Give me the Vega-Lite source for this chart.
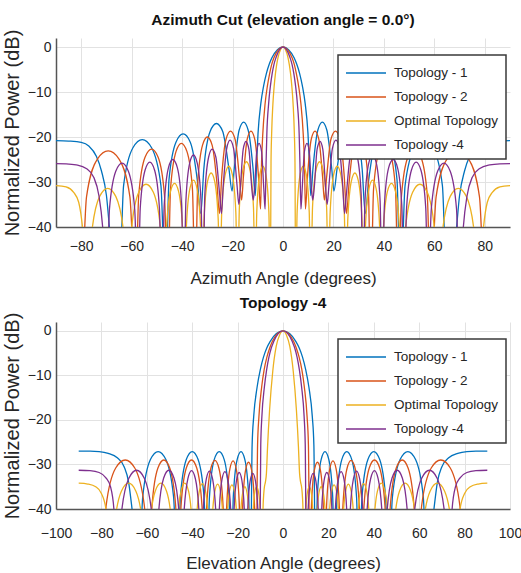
{
"$schema":"https://vega.github.io/schema/vega-lite/v6.json",
"background":"white",
"padding":{"left":2,"top":12,"right":9,"bottom":2},
"spacing":9,
"config":{
 "font":"Liberation Sans, sans-serif",
 "view":{"stroke":null},
 "axis":{"grid":true,"gridColor":"#e2e2e2","gridWidth":1,"domainColor":"#555555","domainWidth":1.5,"ticks":false,"labelFlush":false,"labelFont":"Liberation Sans, sans-serif","labelFontSize":14,"labelColor":"#262626","titleFont":"Liberation Sans, sans-serif","titleFontSize":17,"titleFontWeight":"normal","titleColor":"#262626"},
 "axisY":{"titleFontSize":20,"labelPadding":5,"titlePadding":5},
 "axisX":{"labelPadding":12,"titlePadding":17},
 "title":{"font":"Liberation Sans, sans-serif","fontSize":15.5,"fontWeight":"bold","color":"#111111","offset":1},
 "legend":{"symbolType":"M-2,0L2,0","symbolSize":400,"symbolOffset":10,"symbolStrokeWidth":1.5,"labelFont":"Liberation Sans, sans-serif","labelFontSize":13.5,"labelColor":"#262626","labelOffset":17,"padding":7,"rowPadding":6,"fillColor":"white","strokeColor":"#3a3a3a","strokeWidth":1.5}
},
"datasets":{
"az1":[{"x":0,"y":0},{"x":2.2,"y":-0.6},{"x":4.4,"y":-2.4},{"x":5.5,"y":-3.9},{"x":6.6,"y":-5.9},{"x":7.7,"y":-8.7},{"x":8.8,"y":-12.6},{"x":9.9,"y":-19.2},{"x":10.45,"y":-25.6},{"x":11,"y":-33},{"x":11.9,"y":-26.9},{"x":13.8,"y":-18.5},{"x":15.6,"y":-16.7},{"x":17.4,"y":-18.5},{"x":19.3,"y":-26.9},{"x":20.2,"y":-32},{"x":21.4,"y":-27.2},{"x":23.9,"y":-18.8},{"x":26.4,"y":-17},{"x":28.9,"y":-18.8},{"x":31.4,"y":-27.2},{"x":32.6,"y":-37},{"x":34,"y":-29.5},{"x":36.8,"y":-21.1},{"x":39.6,"y":-19.3},{"x":42.4,"y":-21.1},{"x":45.2,"y":-29.5},{"x":46.6,"y":-55},{"x":48.4,"y":-30.8},{"x":52.1,"y":-22.4},{"x":55.8,"y":-20.6},{"x":59.5,"y":-22.4},{"x":63.2,"y":-30.8},{"x":65,"y":-55},{"x":68.5,"y":-42},{"x":70,"y":-33},{"x":72,"y":-27.5},{"x":74,"y":-24.3},{"x":77,"y":-22},{"x":80,"y":-21.2},{"x":85,"y":-20.9},{"x":90,"y":-20.8},
{"x":-2.2,"y":-0.6},{"x":-4.4,"y":-2.4},{"x":-5.5,"y":-3.9},{"x":-6.6,"y":-5.9},{"x":-7.7,"y":-8.7},{"x":-8.8,"y":-12.6},{"x":-9.9,"y":-19.2},{"x":-10.45,"y":-25.6},{"x":-11,"y":-33},{"x":-11.9,"y":-26.9},{"x":-13.8,"y":-18.5},{"x":-15.6,"y":-16.7},{"x":-17.4,"y":-18.5},{"x":-19.3,"y":-26.9},{"x":-20.2,"y":-32},{"x":-21.4,"y":-27.2},{"x":-23.9,"y":-18.8},{"x":-26.4,"y":-17},{"x":-28.9,"y":-18.8},{"x":-31.4,"y":-27.2},{"x":-32.6,"y":-37},{"x":-34,"y":-29.5},{"x":-36.8,"y":-21.1},{"x":-39.6,"y":-19.3},{"x":-42.4,"y":-21.1},{"x":-45.2,"y":-29.5},{"x":-46.6,"y":-55},{"x":-48.4,"y":-30.8},{"x":-52.1,"y":-22.4},{"x":-55.8,"y":-20.6},{"x":-59.5,"y":-22.4},{"x":-63.2,"y":-30.8},{"x":-65,"y":-55},{"x":-68.5,"y":-42},{"x":-70,"y":-33},{"x":-72,"y":-27.5},{"x":-74,"y":-24.3},{"x":-77,"y":-22},{"x":-80,"y":-21.2},{"x":-85,"y":-20.9},{"x":-90,"y":-20.8}],
"az2":[{"x":0,"y":0},{"x":1.8,"y":-0.6},{"x":3.6,"y":-2.4},{"x":4.5,"y":-3.9},{"x":5.3,"y":-5.9},{"x":6.2,"y":-8.7},{"x":7.1,"y":-12.6},{"x":8,"y":-19.2},{"x":8.5,"y":-25.6},{"x":8.9,"y":-36},{"x":9.7,"y":-28.9},{"x":11.2,"y":-20.5},{"x":12.7,"y":-18.7},{"x":14.2,"y":-20.5},{"x":15.7,"y":-28.9},{"x":16.4,"y":-34},{"x":17.3,"y":-28.9},{"x":19,"y":-20.5},{"x":20.8,"y":-18.7},{"x":22.6,"y":-20.5},{"x":24.3,"y":-28.9},{"x":25.2,"y":-37},{"x":26.2,"y":-30.2},{"x":28.1,"y":-21.8},{"x":30,"y":-20},{"x":31.9,"y":-21.8},{"x":33.8,"y":-30.2},{"x":34.8,"y":-55},{"x":35.9,"y":-31.6},{"x":38.1,"y":-23.2},{"x":40.3,"y":-21.4},{"x":42.4,"y":-23.2},{"x":44.6,"y":-31.6},{"x":45.7,"y":-55},{"x":47,"y":-32.9},{"x":49.5,"y":-24.5},{"x":52.1,"y":-22.7},{"x":54.7,"y":-24.5},{"x":57.2,"y":-32.9},{"x":58.5,"y":-55},{"x":60.7,"y":-33.3},{"x":65,"y":-24.9},{"x":69.3,"y":-23.1},{"x":73.6,"y":-24.9},{"x":77.9,"y":-33.3},{"x":80,"y":-55},{"x":90,"y":-62},
{"x":-1.8,"y":-0.6},{"x":-3.6,"y":-2.4},{"x":-4.5,"y":-3.9},{"x":-5.3,"y":-5.9},{"x":-6.2,"y":-8.7},{"x":-7.1,"y":-12.6},{"x":-8,"y":-19.2},{"x":-8.5,"y":-25.6},{"x":-8.9,"y":-36},{"x":-9.7,"y":-28.9},{"x":-11.2,"y":-20.5},{"x":-12.7,"y":-18.7},{"x":-14.2,"y":-20.5},{"x":-15.7,"y":-28.9},{"x":-16.4,"y":-34},{"x":-17.3,"y":-28.9},{"x":-19,"y":-20.5},{"x":-20.8,"y":-18.7},{"x":-22.6,"y":-20.5},{"x":-24.3,"y":-28.9},{"x":-25.2,"y":-37},{"x":-26.2,"y":-30.2},{"x":-28.1,"y":-21.8},{"x":-30,"y":-20},{"x":-31.9,"y":-21.8},{"x":-33.8,"y":-30.2},{"x":-34.8,"y":-55},{"x":-35.9,"y":-31.6},{"x":-38.1,"y":-23.2},{"x":-40.3,"y":-21.4},{"x":-42.4,"y":-23.2},{"x":-44.6,"y":-31.6},{"x":-45.7,"y":-55},{"x":-47,"y":-32.9},{"x":-49.5,"y":-24.5},{"x":-52.1,"y":-22.7},{"x":-54.7,"y":-24.5},{"x":-57.2,"y":-32.9},{"x":-58.5,"y":-55},{"x":-60.7,"y":-33.3},{"x":-65,"y":-24.9},{"x":-69.3,"y":-23.1},{"x":-73.6,"y":-24.9},{"x":-77.9,"y":-33.3},{"x":-80,"y":-55},{"x":-90,"y":-62}],
"azo":[{"x":0,"y":0},{"x":1,"y":-0.6},{"x":2,"y":-2.4},{"x":2.5,"y":-3.9},{"x":3,"y":-5.9},{"x":3.5,"y":-8.7},{"x":4,"y":-12.6},{"x":4.5,"y":-19.2},{"x":4.75,"y":-25.6},{"x":5,"y":-55},{"x":5.6,"y":-36.7},{"x":6.8,"y":-28.3},{"x":8,"y":-26.5},{"x":9.2,"y":-28.3},{"x":10.4,"y":-36.7},{"x":11,"y":-55},{"x":11.7,"y":-35.7},{"x":13.1,"y":-27.3},{"x":14.5,"y":-25.5},{"x":15.9,"y":-27.3},{"x":17.3,"y":-35.7},{"x":18,"y":-55},{"x":18.7,"y":-36.7},{"x":20.1,"y":-28.3},{"x":21.5,"y":-26.5},{"x":22.9,"y":-28.3},{"x":24.3,"y":-36.7},{"x":25,"y":-55},{"x":25.7,"y":-38.2},{"x":27.1,"y":-29.8},{"x":28.5,"y":-28},{"x":29.9,"y":-29.8},{"x":31.3,"y":-38.2},{"x":32,"y":-55},{"x":32.7,"y":-39.8},{"x":34.1,"y":-31.4},{"x":35.5,"y":-29.6},{"x":36.9,"y":-31.4},{"x":38.3,"y":-39.8},{"x":39,"y":-55},{"x":39.8,"y":-40.5},{"x":41.4,"y":-32.1},{"x":43,"y":-30.3},{"x":44.6,"y":-32.1},{"x":46.2,"y":-40.5},{"x":47,"y":-55},{"x":48.5,"y":-40.7},{"x":51.4,"y":-32.3},{"x":54.3,"y":-30.5},{"x":57.2,"y":-32.3},{"x":60.1,"y":-40.7},{"x":61.5,"y":-55},{"x":63.1,"y":-41.6},{"x":66.3,"y":-33.2},{"x":69.5,"y":-31.4},{"x":72.7,"y":-33.2},{"x":75.9,"y":-41.6},{"x":77.5,"y":-55},{"x":79.5,"y":-40},{"x":81,"y":-34.5},{"x":83,"y":-32.3},{"x":86,"y":-31.1},{"x":90,"y":-30.8},
{"x":-1,"y":-0.6},{"x":-2,"y":-2.4},{"x":-2.5,"y":-3.9},{"x":-3,"y":-5.9},{"x":-3.5,"y":-8.7},{"x":-4,"y":-12.6},{"x":-4.5,"y":-19.2},{"x":-4.75,"y":-25.6},{"x":-5,"y":-55},{"x":-5.6,"y":-36.7},{"x":-6.8,"y":-28.3},{"x":-8,"y":-26.5},{"x":-9.2,"y":-28.3},{"x":-10.4,"y":-36.7},{"x":-11,"y":-55},{"x":-11.7,"y":-35.7},{"x":-13.1,"y":-27.3},{"x":-14.5,"y":-25.5},{"x":-15.9,"y":-27.3},{"x":-17.3,"y":-35.7},{"x":-18,"y":-55},{"x":-18.7,"y":-36.7},{"x":-20.1,"y":-28.3},{"x":-21.5,"y":-26.5},{"x":-22.9,"y":-28.3},{"x":-24.3,"y":-36.7},{"x":-25,"y":-55},{"x":-25.7,"y":-38.2},{"x":-27.1,"y":-29.8},{"x":-28.5,"y":-28},{"x":-29.9,"y":-29.8},{"x":-31.3,"y":-38.2},{"x":-32,"y":-55},{"x":-32.7,"y":-39.8},{"x":-34.1,"y":-31.4},{"x":-35.5,"y":-29.6},{"x":-36.9,"y":-31.4},{"x":-38.3,"y":-39.8},{"x":-39,"y":-55},{"x":-39.8,"y":-40.5},{"x":-41.4,"y":-32.1},{"x":-43,"y":-30.3},{"x":-44.6,"y":-32.1},{"x":-46.2,"y":-40.5},{"x":-47,"y":-55},{"x":-48.5,"y":-40.7},{"x":-51.4,"y":-32.3},{"x":-54.3,"y":-30.5},{"x":-57.2,"y":-32.3},{"x":-60.1,"y":-40.7},{"x":-61.5,"y":-55},{"x":-63.1,"y":-41.6},{"x":-66.3,"y":-33.2},{"x":-69.5,"y":-31.4},{"x":-72.7,"y":-33.2},{"x":-75.9,"y":-41.6},{"x":-77.5,"y":-55},{"x":-79.5,"y":-40},{"x":-81,"y":-34.5},{"x":-83,"y":-32.3},{"x":-86,"y":-31.1},{"x":-90,"y":-30.8}],
"az4":[{"x":0,"y":0},{"x":1.4,"y":-0.6},{"x":2.8,"y":-2.4},{"x":3.6,"y":-3.9},{"x":4.3,"y":-5.9},{"x":5,"y":-8.7},{"x":5.7,"y":-12.6},{"x":6.4,"y":-19.2},{"x":6.7,"y":-25.6},{"x":7.1,"y":-36},{"x":7.6,"y":-31.6},{"x":8.5,"y":-23.2},{"x":9.5,"y":-21.4},{"x":10.4,"y":-23.2},{"x":11.3,"y":-31.6},{"x":11.8,"y":-34},{"x":12.4,"y":-31.2},{"x":13.5,"y":-22.8},{"x":14.7,"y":-21},{"x":15.8,"y":-22.8},{"x":16.9,"y":-31.2},{"x":17.5,"y":-35},{"x":18.2,"y":-30.9},{"x":19.6,"y":-22.5},{"x":21,"y":-20.7},{"x":22.3,"y":-22.5},{"x":23.7,"y":-30.9},{"x":24.4,"y":-37},{"x":25.1,"y":-32.9},{"x":26.6,"y":-24.5},{"x":28.1,"y":-22.7},{"x":29.5,"y":-24.5},{"x":31,"y":-32.9},{"x":31.7,"y":-55},{"x":32.5,"y":-34.2},{"x":34,"y":-25.8},{"x":35.5,"y":-24},{"x":37,"y":-25.8},{"x":38.5,"y":-34.2},{"x":39.3,"y":-55},{"x":40.2,"y":-35.2},{"x":41.9,"y":-26.8},{"x":43.7,"y":-25},{"x":45.4,"y":-26.8},{"x":47.1,"y":-35.2},{"x":48,"y":-55},{"x":49,"y":-35.8},{"x":50.9,"y":-27.4},{"x":52.8,"y":-25.6},{"x":54.7,"y":-27.4},{"x":56.6,"y":-35.8},{"x":57.5,"y":-55},{"x":58.8,"y":-36},{"x":61.3,"y":-27.6},{"x":63.8,"y":-25.8},{"x":66.3,"y":-27.6},{"x":68.8,"y":-36},{"x":70,"y":-55},{"x":71.5,"y":-40},{"x":73,"y":-33},{"x":75,"y":-29},{"x":78,"y":-27},{"x":82,"y":-26.2},{"x":86,"y":-25.95},{"x":90,"y":-25.9},
{"x":-1.4,"y":-0.6},{"x":-2.8,"y":-2.4},{"x":-3.6,"y":-3.9},{"x":-4.3,"y":-5.9},{"x":-5,"y":-8.7},{"x":-5.7,"y":-12.6},{"x":-6.4,"y":-19.2},{"x":-6.7,"y":-25.6},{"x":-7.1,"y":-36},{"x":-7.6,"y":-31.6},{"x":-8.5,"y":-23.2},{"x":-9.5,"y":-21.4},{"x":-10.4,"y":-23.2},{"x":-11.3,"y":-31.6},{"x":-11.8,"y":-34},{"x":-12.4,"y":-31.2},{"x":-13.5,"y":-22.8},{"x":-14.7,"y":-21},{"x":-15.8,"y":-22.8},{"x":-16.9,"y":-31.2},{"x":-17.5,"y":-35},{"x":-18.2,"y":-30.9},{"x":-19.6,"y":-22.5},{"x":-21,"y":-20.7},{"x":-22.3,"y":-22.5},{"x":-23.7,"y":-30.9},{"x":-24.4,"y":-37},{"x":-25.1,"y":-32.9},{"x":-26.6,"y":-24.5},{"x":-28.1,"y":-22.7},{"x":-29.5,"y":-24.5},{"x":-31,"y":-32.9},{"x":-31.7,"y":-55},{"x":-32.5,"y":-34.2},{"x":-34,"y":-25.8},{"x":-35.5,"y":-24},{"x":-37,"y":-25.8},{"x":-38.5,"y":-34.2},{"x":-39.3,"y":-55},{"x":-40.2,"y":-35.2},{"x":-41.9,"y":-26.8},{"x":-43.7,"y":-25},{"x":-45.4,"y":-26.8},{"x":-47.1,"y":-35.2},{"x":-48,"y":-55},{"x":-49,"y":-35.8},{"x":-50.9,"y":-27.4},{"x":-52.8,"y":-25.6},{"x":-54.7,"y":-27.4},{"x":-56.6,"y":-35.8},{"x":-57.5,"y":-55},{"x":-58.8,"y":-36},{"x":-61.3,"y":-27.6},{"x":-63.8,"y":-25.8},{"x":-66.3,"y":-27.6},{"x":-68.8,"y":-36},{"x":-70,"y":-55},{"x":-71.5,"y":-40},{"x":-73,"y":-33},{"x":-75,"y":-29},{"x":-78,"y":-27},{"x":-82,"y":-26.2},{"x":-86,"y":-25.95},{"x":-90,"y":-25.9}],
"el1":[{"x":0,"y":0},{"x":2.9,"y":-0.6},{"x":5.7,"y":-2.4},{"x":7.2,"y":-3.9},{"x":8.6,"y":-5.9},{"x":10,"y":-8.7},{"x":11.4,"y":-12.6},{"x":12.9,"y":-19.2},{"x":13.6,"y":-25.6},{"x":14.3,"y":-55},{"x":15.1,"y":-37.3},{"x":16.8,"y":-28.9},{"x":18.5,"y":-27.1},{"x":20.2,"y":-28.9},{"x":21.9,"y":-37.3},{"x":22.7,"y":-55},{"x":23.8,"y":-37.3},{"x":25.9,"y":-28.9},{"x":28.1,"y":-27.1},{"x":30.3,"y":-28.9},{"x":32.4,"y":-37.3},{"x":33.5,"y":-55},{"x":34.8,"y":-37.3},{"x":37.4,"y":-28.9},{"x":40,"y":-27.1},{"x":42.6,"y":-28.9},{"x":45.2,"y":-37.3},{"x":46.5,"y":-55},{"x":48.2,"y":-37.3},{"x":51.6,"y":-28.9},{"x":55,"y":-27.1},{"x":58.4,"y":-28.9},{"x":61.8,"y":-37.3},{"x":63.5,"y":-55},{"x":66.5,"y":-40},{"x":68,"y":-34},{"x":70,"y":-30.5},{"x":73,"y":-28.5},{"x":77,"y":-27.5},{"x":81,"y":-27.1},{"x":85,"y":-27},{"x":90,"y":-27},
{"x":-2.9,"y":-0.6},{"x":-5.7,"y":-2.4},{"x":-7.2,"y":-3.9},{"x":-8.6,"y":-5.9},{"x":-10,"y":-8.7},{"x":-11.4,"y":-12.6},{"x":-12.9,"y":-19.2},{"x":-13.6,"y":-25.6},{"x":-14.3,"y":-55},{"x":-15.1,"y":-37.3},{"x":-16.8,"y":-28.9},{"x":-18.5,"y":-27.1},{"x":-20.2,"y":-28.9},{"x":-21.9,"y":-37.3},{"x":-22.7,"y":-55},{"x":-23.8,"y":-37.3},{"x":-25.9,"y":-28.9},{"x":-28.1,"y":-27.1},{"x":-30.3,"y":-28.9},{"x":-32.4,"y":-37.3},{"x":-33.5,"y":-55},{"x":-34.8,"y":-37.3},{"x":-37.4,"y":-28.9},{"x":-40,"y":-27.1},{"x":-42.6,"y":-28.9},{"x":-45.2,"y":-37.3},{"x":-46.5,"y":-55},{"x":-48.2,"y":-37.3},{"x":-51.6,"y":-28.9},{"x":-55,"y":-27.1},{"x":-58.4,"y":-28.9},{"x":-61.8,"y":-37.3},{"x":-63.5,"y":-55},{"x":-66.5,"y":-40},{"x":-68,"y":-34},{"x":-70,"y":-30.5},{"x":-73,"y":-28.5},{"x":-77,"y":-27.5},{"x":-81,"y":-27.1},{"x":-85,"y":-27},{"x":-90,"y":-27}],
"el2":[{"x":0,"y":0},{"x":2.4,"y":-0.6},{"x":4.7,"y":-2.4},{"x":5.9,"y":-3.9},{"x":7.1,"y":-5.9},{"x":8.3,"y":-8.7},{"x":9.4,"y":-12.6},{"x":10.6,"y":-19.2},{"x":11.2,"y":-25.6},{"x":11.8,"y":-55},{"x":12.5,"y":-39.7},{"x":13.8,"y":-31.3},{"x":15.2,"y":-29.5},{"x":16.5,"y":-31.3},{"x":17.8,"y":-39.7},{"x":18.5,"y":-55},{"x":19.2,"y":-39.4},{"x":20.6,"y":-31},{"x":22,"y":-29.2},{"x":23.4,"y":-31},{"x":24.8,"y":-39.4},{"x":25.5,"y":-55},{"x":26.4,"y":-39.3},{"x":28.2,"y":-30.9},{"x":30,"y":-29.1},{"x":31.8,"y":-30.9},{"x":33.6,"y":-39.3},{"x":34.5,"y":-55},{"x":35.7,"y":-39.2},{"x":38,"y":-30.8},{"x":40.3,"y":-29},{"x":42.6,"y":-30.8},{"x":44.9,"y":-39.2},{"x":46,"y":-55},{"x":47.3,"y":-39.2},{"x":49.9,"y":-30.8},{"x":52.5,"y":-29},{"x":55.1,"y":-30.8},{"x":57.7,"y":-39.2},{"x":59,"y":-55},{"x":61.1,"y":-39.2},{"x":65.3,"y":-30.8},{"x":69.5,"y":-29},{"x":73.7,"y":-30.8},{"x":77.9,"y":-39.2},{"x":80,"y":-55},{"x":90,"y":-62},
{"x":-2.4,"y":-0.6},{"x":-4.7,"y":-2.4},{"x":-5.9,"y":-3.9},{"x":-7.1,"y":-5.9},{"x":-8.3,"y":-8.7},{"x":-9.4,"y":-12.6},{"x":-10.6,"y":-19.2},{"x":-11.2,"y":-25.6},{"x":-11.8,"y":-55},{"x":-12.5,"y":-39.7},{"x":-13.8,"y":-31.3},{"x":-15.2,"y":-29.5},{"x":-16.5,"y":-31.3},{"x":-17.8,"y":-39.7},{"x":-18.5,"y":-55},{"x":-19.2,"y":-39.4},{"x":-20.6,"y":-31},{"x":-22,"y":-29.2},{"x":-23.4,"y":-31},{"x":-24.8,"y":-39.4},{"x":-25.5,"y":-55},{"x":-26.4,"y":-39.3},{"x":-28.2,"y":-30.9},{"x":-30,"y":-29.1},{"x":-31.8,"y":-30.9},{"x":-33.6,"y":-39.3},{"x":-34.5,"y":-55},{"x":-35.7,"y":-39.2},{"x":-38,"y":-30.8},{"x":-40.3,"y":-29},{"x":-42.6,"y":-30.8},{"x":-44.9,"y":-39.2},{"x":-46,"y":-55},{"x":-47.3,"y":-39.2},{"x":-49.9,"y":-30.8},{"x":-52.5,"y":-29},{"x":-55.1,"y":-30.8},{"x":-57.7,"y":-39.2},{"x":-59,"y":-55},{"x":-61.1,"y":-39.2},{"x":-65.3,"y":-30.8},{"x":-69.5,"y":-29},{"x":-73.7,"y":-30.8},{"x":-77.9,"y":-39.2},{"x":-80,"y":-55},{"x":-90,"y":-62}],
"elo":[{"x":0,"y":0},{"x":1.5,"y":-0.9},{"x":3,"y":-3.5},{"x":4.5,"y":-9},{"x":5.9,"y":-17.7},{"x":6.8,"y":-26},{"x":7.3,"y":-32},{"x":7.7,"y":-33.8},{"x":8.3,"y":-35.5},{"x":8.8,"y":-40},{"x":9.2,"y":-55},{"x":9.7,"y":-45.2},{"x":10.6,"y":-36.8},{"x":11.6,"y":-35},{"x":12.6,"y":-36.8},{"x":13.5,"y":-45.2},{"x":14,"y":-55},{"x":14.6,"y":-45.2},{"x":15.7,"y":-36.8},{"x":16.8,"y":-35},{"x":17.9,"y":-36.8},{"x":19,"y":-45.2},{"x":19.5,"y":-55},{"x":20.1,"y":-44.8},{"x":21.3,"y":-36.4},{"x":22.5,"y":-34.6},{"x":23.7,"y":-36.4},{"x":24.9,"y":-44.8},{"x":25.5,"y":-55},{"x":26.2,"y":-44.6},{"x":27.5,"y":-36.2},{"x":28.8,"y":-34.4},{"x":30.1,"y":-36.2},{"x":31.4,"y":-44.6},{"x":32,"y":-55},{"x":32.7,"y":-44.5},{"x":34.1,"y":-36.1},{"x":35.5,"y":-34.3},{"x":36.9,"y":-36.1},{"x":38.3,"y":-44.5},{"x":39,"y":-55},{"x":39.9,"y":-44.4},{"x":41.6,"y":-36},{"x":43.3,"y":-34.2},{"x":44.9,"y":-36},{"x":46.7,"y":-44.4},{"x":47.5,"y":-55},{"x":48.8,"y":-44.4},{"x":51.3,"y":-36},{"x":53.8,"y":-34.2},{"x":56.3,"y":-36},{"x":58.8,"y":-44.4},{"x":60,"y":-55},{"x":61.6,"y":-44.4},{"x":64.8,"y":-36},{"x":68,"y":-34.2},{"x":71.2,"y":-36},{"x":74.4,"y":-44.4},{"x":76,"y":-55},{"x":78,"y":-40},{"x":80,"y":-36.5},{"x":82.5,"y":-35},{"x":86,"y":-34.4},{"x":90,"y":-34.2},
{"x":-1.5,"y":-0.9},{"x":-3,"y":-3.5},{"x":-4.5,"y":-9},{"x":-5.9,"y":-17.7},{"x":-6.8,"y":-26},{"x":-7.3,"y":-32},{"x":-7.7,"y":-33.8},{"x":-8.3,"y":-35.5},{"x":-8.8,"y":-40},{"x":-9.2,"y":-55},{"x":-9.7,"y":-45.2},{"x":-10.6,"y":-36.8},{"x":-11.6,"y":-35},{"x":-12.6,"y":-36.8},{"x":-13.5,"y":-45.2},{"x":-14,"y":-55},{"x":-14.6,"y":-45.2},{"x":-15.7,"y":-36.8},{"x":-16.8,"y":-35},{"x":-17.9,"y":-36.8},{"x":-19,"y":-45.2},{"x":-19.5,"y":-55},{"x":-20.1,"y":-44.8},{"x":-21.3,"y":-36.4},{"x":-22.5,"y":-34.6},{"x":-23.7,"y":-36.4},{"x":-24.9,"y":-44.8},{"x":-25.5,"y":-55},{"x":-26.2,"y":-44.6},{"x":-27.5,"y":-36.2},{"x":-28.8,"y":-34.4},{"x":-30.1,"y":-36.2},{"x":-31.4,"y":-44.6},{"x":-32,"y":-55},{"x":-32.7,"y":-44.5},{"x":-34.1,"y":-36.1},{"x":-35.5,"y":-34.3},{"x":-36.9,"y":-36.1},{"x":-38.3,"y":-44.5},{"x":-39,"y":-55},{"x":-39.9,"y":-44.4},{"x":-41.6,"y":-36},{"x":-43.3,"y":-34.2},{"x":-44.9,"y":-36},{"x":-46.7,"y":-44.4},{"x":-47.5,"y":-55},{"x":-48.8,"y":-44.4},{"x":-51.3,"y":-36},{"x":-53.8,"y":-34.2},{"x":-56.3,"y":-36},{"x":-58.8,"y":-44.4},{"x":-60,"y":-55},{"x":-61.6,"y":-44.4},{"x":-64.8,"y":-36},{"x":-68,"y":-34.2},{"x":-71.2,"y":-36},{"x":-74.4,"y":-44.4},{"x":-76,"y":-55},{"x":-78,"y":-40},{"x":-80,"y":-36.5},{"x":-82.5,"y":-35},{"x":-86,"y":-34.4},{"x":-90,"y":-34.2}],
"el4":[{"x":0,"y":0},{"x":2.1,"y":-0.6},{"x":4.1,"y":-2.4},{"x":5.2,"y":-3.9},{"x":6.2,"y":-5.9},{"x":7.2,"y":-8.7},{"x":8.2,"y":-12.6},{"x":9.3,"y":-19.2},{"x":9.8,"y":-25.6},{"x":10.3,"y":-55},{"x":10.9,"y":-42.2},{"x":12.1,"y":-33.8},{"x":13.3,"y":-32},{"x":14.5,"y":-33.8},{"x":15.7,"y":-42.2},{"x":16.3,"y":-55},{"x":16.9,"y":-42},{"x":18.1,"y":-33.6},{"x":19.3,"y":-31.8},{"x":20.5,"y":-33.6},{"x":21.7,"y":-42},{"x":22.3,"y":-55},{"x":22.9,"y":-41.8},{"x":24.3,"y":-33.4},{"x":25.6,"y":-31.6},{"x":26.9,"y":-33.4},{"x":28.2,"y":-41.8},{"x":28.8,"y":-55},{"x":29.5,"y":-41.7},{"x":31,"y":-33.3},{"x":32.4,"y":-31.5},{"x":33.8,"y":-33.3},{"x":35.3,"y":-41.7},{"x":36,"y":-55},{"x":36.9,"y":-41.6},{"x":38.6,"y":-33.2},{"x":40.3,"y":-31.4},{"x":41.9,"y":-33.2},{"x":43.7,"y":-41.6},{"x":44.5,"y":-55},{"x":45.7,"y":-41.5},{"x":48,"y":-33.1},{"x":50.3,"y":-31.3},{"x":52.6,"y":-33.1},{"x":54.9,"y":-41.5},{"x":56,"y":-55},{"x":57.7,"y":-41.5},{"x":61.1,"y":-33.1},{"x":64.5,"y":-31.3},{"x":67.9,"y":-33.1},{"x":71.3,"y":-41.5},{"x":73,"y":-55},{"x":74.5,"y":-40},{"x":76,"y":-35},{"x":78,"y":-33},{"x":81,"y":-31.8},{"x":85,"y":-31.4},{"x":90,"y":-31.3},
{"x":-2.1,"y":-0.6},{"x":-4.1,"y":-2.4},{"x":-5.2,"y":-3.9},{"x":-6.2,"y":-5.9},{"x":-7.2,"y":-8.7},{"x":-8.2,"y":-12.6},{"x":-9.3,"y":-19.2},{"x":-9.8,"y":-25.6},{"x":-10.3,"y":-55},{"x":-10.9,"y":-42.2},{"x":-12.1,"y":-33.8},{"x":-13.3,"y":-32},{"x":-14.5,"y":-33.8},{"x":-15.7,"y":-42.2},{"x":-16.3,"y":-55},{"x":-16.9,"y":-42},{"x":-18.1,"y":-33.6},{"x":-19.3,"y":-31.8},{"x":-20.5,"y":-33.6},{"x":-21.7,"y":-42},{"x":-22.3,"y":-55},{"x":-22.9,"y":-41.8},{"x":-24.3,"y":-33.4},{"x":-25.6,"y":-31.6},{"x":-26.9,"y":-33.4},{"x":-28.2,"y":-41.8},{"x":-28.8,"y":-55},{"x":-29.5,"y":-41.7},{"x":-31,"y":-33.3},{"x":-32.4,"y":-31.5},{"x":-33.8,"y":-33.3},{"x":-35.3,"y":-41.7},{"x":-36,"y":-55},{"x":-36.9,"y":-41.6},{"x":-38.6,"y":-33.2},{"x":-40.3,"y":-31.4},{"x":-41.9,"y":-33.2},{"x":-43.7,"y":-41.6},{"x":-44.5,"y":-55},{"x":-45.7,"y":-41.5},{"x":-48,"y":-33.1},{"x":-50.3,"y":-31.3},{"x":-52.6,"y":-33.1},{"x":-54.9,"y":-41.5},{"x":-56,"y":-55},{"x":-57.7,"y":-41.5},{"x":-61.1,"y":-33.1},{"x":-64.5,"y":-31.3},{"x":-67.9,"y":-33.1},{"x":-71.3,"y":-41.5},{"x":-73,"y":-55},{"x":-74.5,"y":-40},{"x":-76,"y":-35},{"x":-78,"y":-33},{"x":-81,"y":-31.8},{"x":-85,"y":-31.4},{"x":-90,"y":-31.3}]
},
"vconcat":[
{
 "width":454,"height":189,
 "title":"Azimuth Cut (elevation angle = 0.0°)",
 "encoding":{
  "x":{"field":"x","type":"quantitative","scale":{"domain":[-90,90],"nice":false,"zero":false},"axis":{"values":[-80,-60,-40,-20,0,20,40,60,80],"title":"Azimuth Angle (degrees)"}},
  "y":{"field":"y","type":"quantitative","scale":{"domain":[-40,2],"nice":false,"zero":false},"axis":{"values":[-40,-30,-20,-10,0],"title":"Normalized Power (dB)"}}
 },
 "layer":[
  {"data":{"name":"az1"},"mark":{"type":"line","clip":true,"interpolate":"monotone","strokeWidth":1.3},"encoding":{"color":{"datum":"Topology - 1","type":"nominal","scale":{"domain":["Topology - 1","Topology - 2","Optimal Topology","Topology -4"],"range":["#0072BD","#D95319","#EDB120","#7E2F8E"]},"legend":{"title":null,"orient":"none","legendX":282,"legendY":17}}}},
  {"data":{"name":"az2"},"mark":{"type":"line","clip":true,"interpolate":"monotone","strokeWidth":1.3},"encoding":{"color":{"datum":"Topology - 2","type":"nominal"}}},
  {"data":{"name":"azo"},"mark":{"type":"line","clip":true,"interpolate":"monotone","strokeWidth":1.3},"encoding":{"color":{"datum":"Optimal Topology","type":"nominal"}}},
  {"data":{"name":"az4"},"mark":{"type":"line","clip":true,"interpolate":"monotone","strokeWidth":1.3},"encoding":{"color":{"datum":"Topology -4","type":"nominal"}}}
 ]
},
{
 "width":454,"height":187,
 "title":"Topology -4",
 "encoding":{
  "x":{"field":"x","type":"quantitative","scale":{"domain":[-100,100],"nice":false,"zero":false},"axis":{"values":[-100,-80,-60,-40,-20,0,20,40,60,80,100],"title":"Elevation Angle (degrees)","labelPadding":17,"titlePadding":15}},
  "y":{"field":"y","type":"quantitative","scale":{"domain":[-40,2],"nice":false,"zero":false},"axis":{"values":[-40,-30,-20,-10,0],"title":"Normalized Power (dB)"}}
 },
 "layer":[
  {"data":{"name":"el1"},"mark":{"type":"line","clip":true,"interpolate":"monotone","strokeWidth":1.3},"encoding":{"color":{"datum":"Topology - 1","type":"nominal","scale":{"domain":["Topology - 1","Topology - 2","Optimal Topology","Topology -4"],"range":["#0072BD","#D95319","#EDB120","#7E2F8E"]},"legend":{"title":null,"orient":"none","legendX":282,"legendY":17}}}},
  {"data":{"name":"el2"},"mark":{"type":"line","clip":true,"interpolate":"monotone","strokeWidth":1.3},"encoding":{"color":{"datum":"Topology - 2","type":"nominal"}}},
  {"data":{"name":"elo"},"mark":{"type":"line","clip":true,"interpolate":"monotone","strokeWidth":1.3},"encoding":{"color":{"datum":"Optimal Topology","type":"nominal"}}},
  {"data":{"name":"el4"},"mark":{"type":"line","clip":true,"interpolate":"monotone","strokeWidth":1.3},"encoding":{"color":{"datum":"Topology -4","type":"nominal"}}}
 ]
}
],
"resolve":{"legend":{"color":"independent"},"scale":{"color":"independent"}}
}
